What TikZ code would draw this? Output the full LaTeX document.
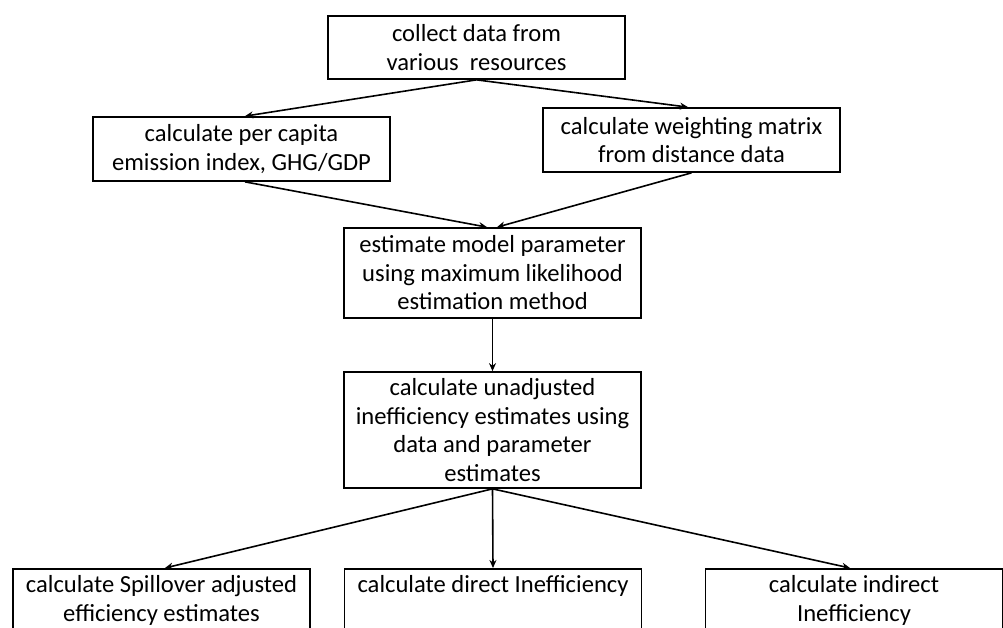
\documentclass[tikz,border=0pt]{standalone}
\usepackage{fontspec}
\setmainfont{Carlito}
\usetikzlibrary{arrows.meta,calc}
\begin{document}
\begin{tikzpicture}[x=1pt,y=-1pt,
  box/.style={draw, line width=1.7pt, minimum width=297pt, inner sep=0pt, align=center,
    font=\fontsize{24.6}{28.5}\selectfont},
  arr/.style={line width=1.6pt, -{Stealth[length=8pt,width=7pt]}}]
\useasboundingbox (0,0) rectangle (1003,628);
\fill[white] (0,0) rectangle (1003,628);
\clip (0,0) rectangle (1003,628);

\node[box, minimum height=63pt] (collect) at (476.5,47.5) {collect data from\\various\ \ resources};
\node[box, minimum height=64pt] (percap) at (241.5,149) {calculate per capita\\emission index, GHG/GDP};
\node[box, minimum height=64pt] (weight) at (691.5,140) {calculate weighting matrix\\from distance data};
\node[box, minimum height=90pt] (mle) at (492.5,273) {estimate model parameter\\using maximum likelihood\\estimation method};
\node[box, minimum height=116pt] (unadj) at (492.5,430) {calculate unadjusted\\inefficiency estimates using\\data and parameter\\estimates};

\node[box, anchor=north] (spill) at (161.5,568) {\rule{0pt}{24pt}calculate Spillover adjusted\\efficiency estimates\rule[-50pt]{0pt}{50pt}};
\node[box, anchor=north] (direct) at (493,568) {\rule{0pt}{24pt}calculate direct Inefficiency\rule[-80pt]{0pt}{80pt}};
\node[box, anchor=north] (indirect) at (854,568) {\rule{0pt}{24pt}calculate indirect\\Inefficiency\rule[-50pt]{0pt}{50pt}};

\draw[arr] (collect.south) -- ([xshift=3.5pt]percap.north);
\draw[arr] (collect.south) -- ([xshift=-3.5pt]weight.north);
\draw[arr] ([xshift=3.5pt]percap.south) -- ([xshift=-5.5pt]mle.north);
\draw[arr] (weight.south) -- ([xshift=4.5pt]mle.north);
\draw[arr] (mle.south) -- (unadj.north);
\draw[arr] (unadj.south) -- ([xshift=3.5pt]spill.north);
\draw[arr] (unadj.south) -- (direct.north);
\draw[arr] (unadj.south) -- ([xshift=-4pt]indirect.north);
\end{tikzpicture}
\end{document}
